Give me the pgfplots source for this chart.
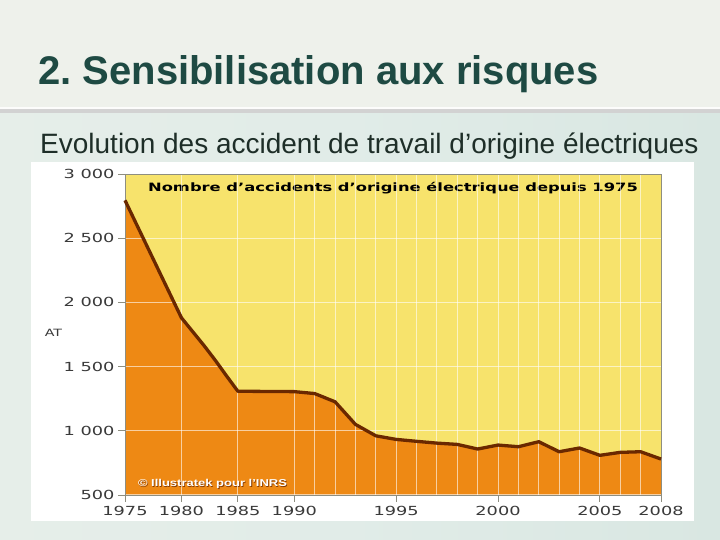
\documentclass[border=0pt]{standalone}
\usepackage{pgfplots}
\usepackage{pgfplotstable}
\pgfplotsset{compat=1.18}
\usepackage{fontspec}
\setmainfont{Liberation Sans}
\newfontfamily\chartfont[FakeStretch=1.42]{DejaVu Sans}
\newfontfamily\copyfont[FakeStretch=1.3]{Liberation Sans}
\definecolor{ylw}{HTML}{F7E36C}
\definecolor{org}{HTML}{EE8914}
\definecolor{brn}{HTML}{6A2800}
\definecolor{ttl}{HTML}{1E4A43}
\definecolor{sub}{HTML}{1E2E28}
\definecolor{tick}{HTML}{3A3A3A}
\definecolor{bgtop}{HTML}{EEF1EB}
\definecolor{bgA}{HTML}{E6EEE9}
\definecolor{bgB}{HTML}{D9E7E2}
\definecolor{axl}{HTML}{8E8E80}
\pgfplotsset{set layers}
% pos = position on the (non-uniform) year axis: 1975-1990 compressed
\pgfplotstableread{
pos    year  at
0      1975  2795
2.770  1980  1880
3.324  1981  1772
3.878  1982  1664
4.432  1983  1549
4.986  1984  1427
5.540  1985  1308
8.310  1990  1305
9.310  1991  1290
10.310 1992  1226
11.310 1993  1050
12.310 1994  961
13.310 1995  933
14.310 1996  918
15.310 1997  904
16.310 1998  894
17.310 1999  858
18.310 2000  889
19.310 2001  876
20.310 2002  915
21.310 2003  837
22.310 2004  866
23.310 2005  809
24.310 2006  832
25.310 2007  837
26.310 2008  780
}\datatable
\begin{document}
\frenchspacing
\begin{tikzpicture}
% slide background
\fill[bgtop] (0pt,430pt) rectangle (720pt,540pt);
\shade[left color=bgA, right color=bgB, middle color=bgB!80!white] (0pt,0pt) rectangle (720pt,430pt);
\fill[gray!35] (0pt,427pt) rectangle (720pt,430.5pt);
\fill[white!80!bgtop] (0pt,430.5pt) rectangle (720pt,432.5pt);
% white box
\fill[white] (31pt,19pt) rectangle (694pt,378pt);
% plot area background
\fill[ylw] (125pt,45pt) rectangle (661pt,366pt);
% titles
\node[anchor=base west, inner sep=0, text=ttl, font=\fontsize{40}{48}\selectfont\bfseries] at (38pt,455pt) {2. Sensibilisation aux risques};
\node[anchor=base west, inner sep=0, text=sub, font=\fontsize{28}{34}\selectfont] at (40pt,386.5pt) {Evolution des accident de travail d’origine électriques};
\begin{axis}[
  at={(125pt,45pt)}, anchor=south west,
  width=536pt, height=321pt, scale only axis,
  xmin=0, xmax=26.31, ymin=500, ymax=3000,
  axis on top,
  axis line style={axl, line width=0.8pt},
  xtick={0,2.77,5.54,8.31,13.31,18.31,23.31,26.31},
  xticklabels={1975,1980,1985,1990,1995,2000,2005,2008},
  minor xtick={2.77,5.54,8.31,9.31,10.31,11.31,12.31,13.31,14.31,15.31,16.31,17.31,18.31,19.31,20.31,21.31,22.31,23.31,24.31,25.31},
  ytick={500,1000,1500,2000,2500,3000},
  yticklabels={500,1 000,1 500,2 000,2 500,3 000},
  tick align=outside, tick pos=left,
  major tick length=7pt, minor tick length=0pt,
  tick style={axl, line width=0.8pt},
  xmajorgrids=false, ymajorgrids=true, xminorgrids=true,
  major grid style={white, opacity=0.6, line width=1pt},
  minor grid style={white, opacity=0.6, line width=1pt},
  ticklabel style={font=\chartfont\fontsize{12.5}{14}\selectfont, text=tick},
  xticklabel style={yshift=-1pt},
]
\addplot[fill=org, draw=none] table[x=pos, y=at] {\datatable} \closedcycle;
\addplot[brn, line width=3.3pt, line join=round, on layer=axis foreground] table[x=pos, y=at] {\datatable};
\end{axis}
% chart inner texts
\node[inner sep=0, font=\chartfont\bfseries\fontsize{11.5}{13}\selectfont] at (393pt,352pt) {Nombre d’accidents d’origine électrique depuis 1975};
\node[inner sep=0, font=\chartfont\fontsize{10}{12}\selectfont, text=tick] at (53.5pt,207pt) {AT};
\node[inner sep=0, font=\copyfont\bfseries\fontsize{10}{12}\selectfont, text=brn!80!org] at (213.3pt,55.2pt) {© Illustratek pour l’INRS};
\node[inner sep=0, font=\copyfont\bfseries\fontsize{10}{12}\selectfont, text=white] at (212.5pt,56pt) {© Illustratek pour l’INRS};
\end{tikzpicture}
\end{document}
